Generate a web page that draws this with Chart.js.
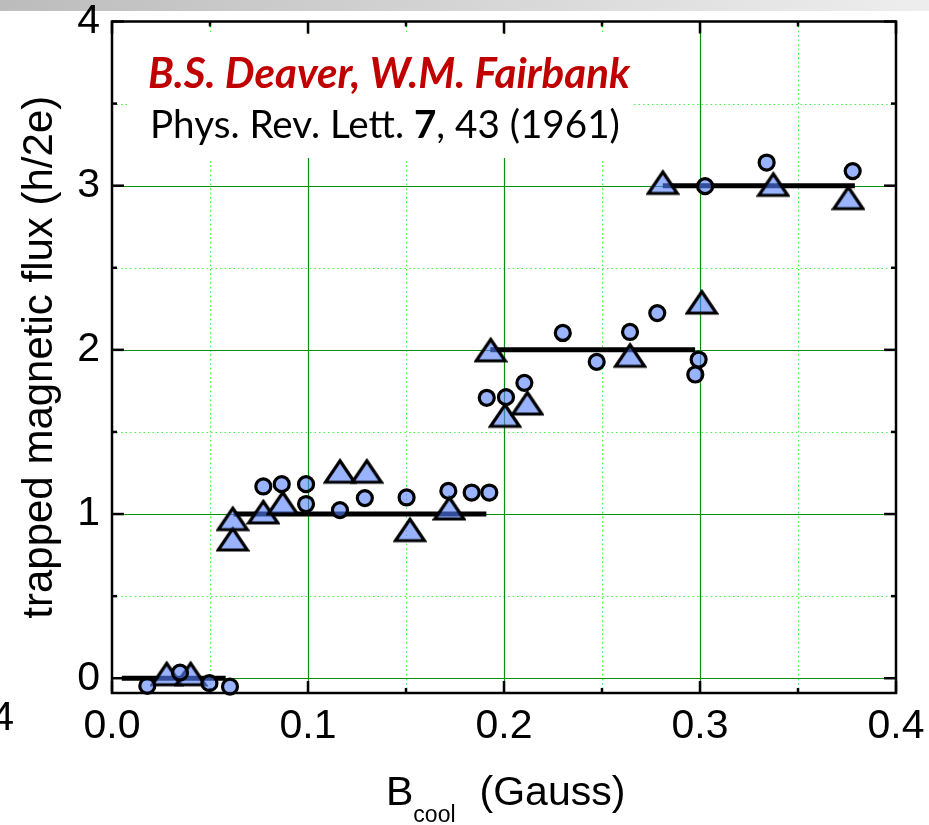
<!DOCTYPE html>
<html><head><meta charset="utf-8">
<script src="https://cdn.jsdelivr.net/npm/chart.js@4/dist/chart.umd.min.js"></script>
<style>
html,body{margin:0;padding:0;background:#fff;}
#wrap{position:relative;width:929px;height:825px;overflow:hidden;}
#bar{position:absolute;left:0;top:0;width:929px;height:11px;background:linear-gradient(to right,#bcbcbc,#eeeeee);}
canvas{position:absolute;left:0;top:0;}
</style></head><body>
<div id="wrap"><div id="bar"></div><canvas id="c" width="929" height="825"></canvas></div>
<script>
// ---- data ----
const circX = [0.018,0.0347,0.0497,0.0602, 0.0772,0.0866,0.099,0.099,0.1163,0.129,0.1503,0.1716,0.1835,0.1925, 0.1912,0.201,0.2104,0.23,0.2473,0.2643,0.2782,0.2993,0.2976, 0.3026,0.334,0.3779];
const circY = [-0.047,0.034,-0.03,-0.051, 1.168,1.182,1.182,1.061,1.024,1.097,1.101,1.141,1.131,1.131, 1.708,1.712,1.799,2.103,1.927,2.109,2.224,1.941,1.85, 2.997,3.141,3.089];
const triX = [0.0279,0.0401, 0.0616,0.0616,0.0772,0.0871,0.1163,0.13,0.152,0.1721, 0.1932,0.2005,0.2119,0.2643,0.3009, 0.281,0.3374,0.3757];
const triY = [0.027,0.027, 0.848,0.972,1.013,1.068,1.261,1.261,0.905,1.037, 2.0,1.601,1.676,1.967,2.291, 3.02,3.008,2.927];
const stepStart = [0.005,0.062,0.193,0.281];
const stepEnd   = [0.058,0.191,0.2975,0.379];
const stepLevel = [0,1,2,3];
const xTickValues = [0,0.1,0.2,0.3,0.4];
const yTickValues = [0,1,2,3,4];
const xMinor = [0.05,0.15,0.25,0.35];
const yMinor = [0.5,1.5,2.5,3.5];
const xTitleMain = 'B', xTitleSub = 'cool', xTitleUnit = '(Gauss)';
const yTitle = 'trapped magnetic flux (h/2e)';
const noteAuthors = 'B.S. Deaver, W.M. Fairbank';
const noteRef = ['Phys. Rev. Lett. ', '7', ', 43 (1961)'];

const SANS = '"Liberation Sans", Arial, sans-serif';
Chart.defaults.font.family = SANS;
Chart.defaults.color = '#000';

// triangle marker image
function triangleImage(){
  const c = document.createElement('canvas');
  c.width = 34; c.height = 30;
  const g = c.getContext('2d');
  g.beginPath();
  g.moveTo(17,4.5); g.lineTo(31.5,26); g.lineTo(2.5,26); g.closePath();
  g.fillStyle = 'rgba(85,128,255,0.6)';
  g.fill();
  g.lineJoin = 'miter'; g.lineWidth = 3.2; g.strokeStyle = '#000';
  g.stroke();
  return c;
}
const triImg = triangleImage();

const datasets = [];
datasets.push({
  label:'circles', data: circX.map((v,i)=>({x:v,y:circY[i]})),
  pointStyle:'circle', pointRadius:7.5, pointHoverRadius:7.5,
  backgroundColor:'rgba(85,128,255,0.6)', borderColor:'#000', borderWidth:3.2,
  showLine:false, clip:false, order:0
});
datasets.push({
  label:'triangles', data: triX.map((v,i)=>({x:v,y:triY[i]})),
  pointStyle: triImg, pointRadius:15, showLine:false, clip:false, order:1
});
stepLevel.forEach((lv,i)=>{
  datasets.push({
    label:'step'+i, type:'line',
    data:[{x:stepStart[i],y:lv},{x:stepEnd[i],y:lv}],
    borderColor:'#000', borderWidth:5, pointRadius:0, showLine:true,
    borderCapStyle:'butt', clip:false, order:5
  });
});

const deco = {
  id:'deco',
  beforeDatasetsDraw(chart){
    const {ctx, chartArea:a, scales:{x,y}} = chart;
    const ln = (x1,y1,x2,y2)=>{ctx.beginPath();ctx.moveTo(x1,y1);ctx.lineTo(x2,y2);ctx.stroke();};
    ctx.save();
    // minor dotted grid
    ctx.strokeStyle = 'rgb(70,245,70)'; ctx.lineWidth = 1; ctx.setLineDash([1.5,3]);
    xMinor.forEach(v=>{const p=Math.round(x.getPixelForValue(v))+0.5; ln(p,a.top,p,a.bottom);});
    yMinor.forEach(v=>{const p=Math.round(y.getPixelForValue(v))+0.5; ln(a.left,p,a.right,p);});
    // major grid
    ctx.setLineDash([]); ctx.strokeStyle = '#0a8f0a'; ctx.lineWidth = 1.2;
    xTickValues.slice(1,-1).forEach(v=>{const p=Math.round(x.getPixelForValue(v))+0.5; ln(p,a.top,p,a.bottom);});
    yTickValues.slice(0,-1).forEach(v=>{const p=Math.round(y.getPixelForValue(v))+0.5; ln(a.left,p,a.right,p);});
    // white annotation background
    ctx.fillStyle = '#fff';
    ctx.fillRect(a.left+15, a.top+12.5, 505, 124);
    // frame
    ctx.strokeStyle = '#000'; ctx.lineWidth = 2.5;
    ctx.strokeRect(a.left, a.top, a.right-a.left, a.bottom-a.top);
    // inward ticks
    const MAJ = 12, MIN = 5;
    const xt = xTickValues.map(v=>[v,MAJ]).concat(xMinor.map(v=>[v,MIN]));
    const yt = yTickValues.map(v=>[v,MAJ]).concat(yMinor.map(v=>[v,MIN]));
    xt.forEach(([v,L])=>{const p=x.getPixelForValue(v); ln(p,a.bottom,p,a.bottom-L); ln(p,a.top,p,a.top+L);});
    yt.forEach(([v,L])=>{const p=y.getPixelForValue(v); ln(a.left,p,a.left+L,p); ln(a.right,p,a.right-L,p);});
    ctx.restore();
  },
  afterDraw(chart){
    const {ctx, chartArea:a} = chart;
    ctx.save();
    ctx.textBaseline = 'alphabetic'; ctx.textAlign = 'left';
    // annotation: authors
    ctx.font = 'italic bold 34px Lato';
    let s = 34 * 482 / ctx.measureText(noteAuthors).width;
    ctx.font = 'italic bold '+s.toFixed(2)+'px Lato';
    ctx.fillStyle = '#c00000';
    ctx.fillText(noteAuthors, a.left+36, a.top+66.5);
    // annotation: reference
    ctx.font = '34px Lato';
    let w0 = ctx.measureText(noteRef[0]).width + ctx.measureText(noteRef[2]).width;
    ctx.font = 'bold 34px Lato';
    w0 += ctx.measureText(noteRef[1]).width;
    s = 34 * 470 / w0;
    let xx = a.left+38, yy = a.top+116.5;
    ctx.fillStyle = '#000';
    ctx.font = s.toFixed(2)+'px Lato'; ctx.fillText(noteRef[0], xx, yy); xx += ctx.measureText(noteRef[0]).width;
    ctx.font = 'bold '+s.toFixed(2)+'px Lato'; ctx.fillText(noteRef[1], xx, yy); xx += ctx.measureText(noteRef[1]).width;
    ctx.font = s.toFixed(2)+'px Lato'; ctx.fillText(noteRef[2], xx, yy);
    // x axis title with subscript
    const cx = (a.left+a.right)/2;
    ctx.font = '41px '+SANS;
    let bx = cx - 118;
    ctx.fillText(xTitleMain, bx, 805);
    bx += ctx.measureText(xTitleMain).width;
    ctx.font = '23px '+SANS;
    ctx.fillText(xTitleSub, bx, 822);
    bx += ctx.measureText(xTitleSub).width + 24;
    ctx.font = '41px '+SANS;
    ctx.fillText(xTitleUnit, bx, 805);
    // stray cut-off label at the left edge (from neighbouring slide content)
    ctx.textAlign = 'right';
    ctx.fillText('0.4', 14, 730);
    ctx.restore();
  }
};

const chart = new Chart(document.getElementById('c'), {
  type:'scatter',
  data:{datasets},
  options:{
    responsive:false, animation:false, devicePixelRatio:1,
    layout:{autoPadding:false, padding:{top:21.5,right:33,left:0,bottom:0}},
    plugins:{legend:{display:false}, tooltip:{enabled:false}},
    scales:{
      x:{type:'linear', min:0, max:0.4,
        afterBuildTicks:s=>{s.ticks = xTickValues.map(v=>({value:v}));},
        afterFit:s=>{s.height = 132; s.paddingLeft = 0; s.paddingRight = 0; s.paddingTop = 0; s.paddingBottom = 0;},
        grid:{display:false, drawTicks:false}, border:{display:false},
        ticks:{font:{size:41}, color:'#000', padding:9, maxRotation:0, autoSkip:false, callback:v=>Number(v).toFixed(1)}
      },
      y:{type:'linear', min:-0.09, max:4,
        afterBuildTicks:s=>{s.ticks = yTickValues.map(v=>({value:v}));},
        afterFit:s=>{s.width = 112; s.paddingLeft = 0; s.paddingRight = 0; s.paddingTop = 0; s.paddingBottom = 0;},
        grid:{display:false, drawTicks:false}, border:{display:false},
        ticks:{font:{size:41}, color:'#000', padding:12, callback:v=>String(v)},
        title:{display:true, text:yTitle, font:{size:42}, color:'#000', padding:{top:15,bottom:0}}
      }
    }
  },
  plugins:[deco]
});
</script>
</body></html>
